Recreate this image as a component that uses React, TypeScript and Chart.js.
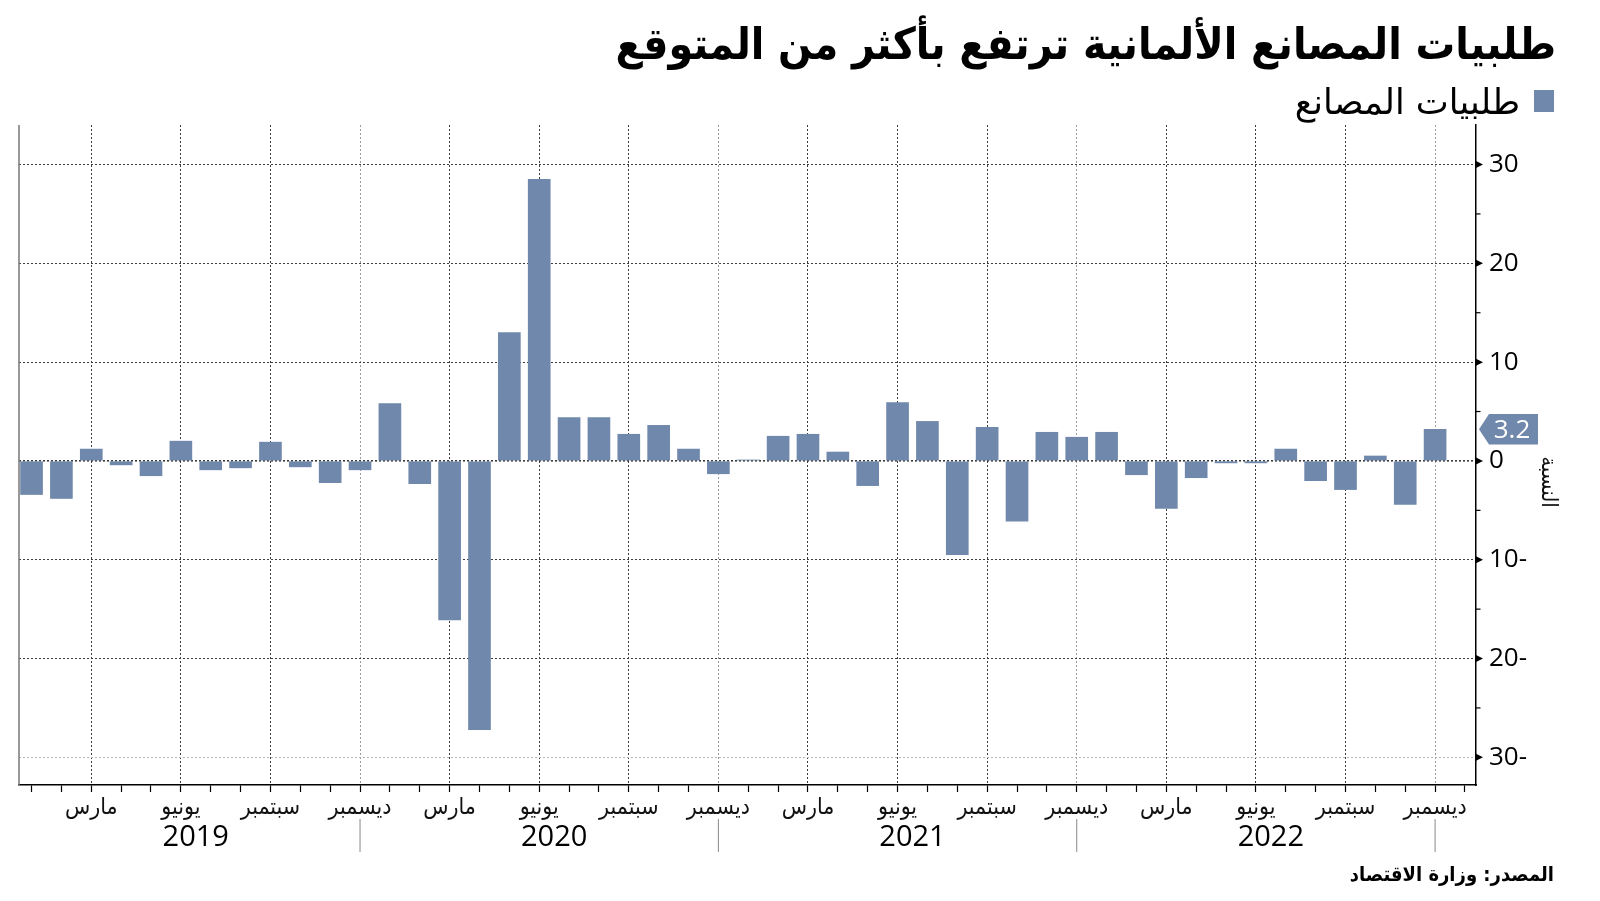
import React, { useEffect, useRef } from 'react';
import { Chart, registerables } from 'chart.js';

Chart.register(...registerables);

const titleText = 'طلبيات المصانع الألمانية ترتفع بأكثر من المتوقع';
const legendText = 'طلبيات المصانع';
const sourceText = 'المصدر: وزارة الاقتصاد';
const yAxisTitle = 'النسبة';

const monthNames = ['يناير', 'فبراير', 'مارس', 'أبريل', 'مايو', 'يونيو', 'يوليو', 'أغسطس', 'سبتمبر', 'أكتوبر', 'نوفمبر', 'ديسمبر'];
const years = ['2019', '2020', '2021', '2022'];

const orders2019 = [-3.4, -3.8, 1.2, -0.4, -1.5, 2.0, -0.9, -0.7, 1.9, -0.6, -2.2, -0.9];
const orders2020 = [5.8, -2.3, -16.1, -27.2, 13.0, 28.5, 4.4, 4.4, 2.7, 3.6, 1.2, -1.3];
const orders2021 = [0.1, 2.5, 2.7, 0.9, -2.5, 5.9, 4.0, -9.5, 3.4, -6.1, 2.9, 2.4];
const orders2022 = [2.9, -1.4, -4.8, -1.7, -0.2, -0.2, 1.2, -2.0, -2.9, 0.5, -4.4, 3.2];

const yMajorTicks = [-30, -20, -10, 0, 10, 20, 30];
const yMinorTicks = [-25, -15, -5, 5, 15, 25];

const BAR = '#6f88ab';
const AR_FONT = '"DejaVu Sans Condensed", "DejaVu Sans", sans-serif';
const AR_WIDE = '"DejaVu Sans", sans-serif';
const NUM_FONT = '"Open Sans", "DejaVu Sans", sans-serif';

export default function App() {
  const ref = useRef<HTMLCanvasElement | null>(null);

  useEffect(() => {
    const canvas = ref.current;
    if (!canvas) return;
    const values = [...orders2019, ...orders2020, ...orders2021, ...orders2022];
    const n = values.length;
    const data = values.map((v, i) => ({ x: i, y: v }));
    const lastVal = values[n - 1];

    const decor = {
      id: 'decor',
      afterDraw(chart: any) {
        const { ctx, chartArea } = chart;
        const xs = chart.scales.x;
        const ys = chart.scales.y;
        ctx.save();
        // left axis line
        ctx.strokeStyle = '#777';
        ctx.lineWidth = 1.5;
        ctx.beginPath();
        ctx.moveTo(chartArea.left, chartArea.top);
        ctx.lineTo(chartArea.left, chartArea.bottom);
        ctx.stroke();

        // y major arrows
        const ax = chartArea.right;
        ctx.fillStyle = '#000';
        yMajorTicks.forEach((v) => {
          const y = ys.getPixelForValue(v);
          ctx.beginPath();
          ctx.moveTo(ax, y - 3.5);
          ctx.lineTo(ax + 7, y);
          ctx.lineTo(ax, y + 3.5);
          ctx.closePath();
          ctx.fill();
        });
        ctx.strokeStyle = '#000';
        ctx.lineWidth = 1.2;
        yMinorTicks.forEach((v) => {
          const y = ys.getPixelForValue(v);
          ctx.beginPath();
          ctx.moveTo(ax, y);
          ctx.lineTo(ax + 4.5, y);
          ctx.stroke();
        });

        // last value tag
        const yv = ys.getPixelForValue(lastVal);
        const h = 15.3;
        ctx.fillStyle = BAR;
        ctx.beginPath();
        ctx.moveTo(ax + 3, yv);
        ctx.lineTo(ax + 13, yv - h);
        ctx.lineTo(ax + 62, yv - h);
        ctx.lineTo(ax + 62, yv + h);
        ctx.lineTo(ax + 13, yv + h);
        ctx.closePath();
        ctx.fill();
        ctx.fillStyle = '#fff';
        ctx.font = `26px ${NUM_FONT}`;
        ctx.textAlign = 'center';
        ctx.textBaseline = 'middle';
        ctx.fillText(String(lastVal), ax + 36, yv + 1);

        // y axis title (rotated)
        ctx.save();
        ctx.translate(1548, 482);
        ctx.rotate(Math.PI / 2);
        ctx.fillStyle = '#111';
        ctx.font = `22px ${AR_FONT}`;
        ctx.textAlign = 'center';
        ctx.textBaseline = 'middle';
        ctx.fillText(yAxisTitle, 0, 0);
        ctx.restore();

        // year labels & separators
        ctx.fillStyle = '#000';
        ctx.font = `29px ${NUM_FONT}`;
        ctx.textAlign = 'center';
        ctx.textBaseline = 'middle';
        years.forEach((yr, k) => {
          const cx = xs.getPixelForValue(12 * k + 5.5);
          ctx.fillText(yr, cx, 838);
          const sx = xs.getPixelForValue(12 * k + 11);
          ctx.strokeStyle = '#888';
          ctx.lineWidth = 1;
          ctx.beginPath();
          ctx.moveTo(sx, 819);
          ctx.lineTo(sx, 852);
          ctx.stroke();
        });
        ctx.restore();
      },
    };

    const chart = new Chart(canvas, {
      type: 'bar',
      data: {
        datasets: [
          {
            label: legendText,
            data,
            backgroundColor: BAR,
            borderWidth: 0,
            barThickness: 22,
          },
        ],
      },
      options: {
        animation: false,
        responsive: false,
        devicePixelRatio: 1,
        layout: { padding: { left: 19, top: 125, right: 0, bottom: 0 } },
        plugins: { legend: { display: false }, tooltip: { enabled: false }, title: { display: false } },
        scales: {
          x: {
            type: 'linear',
            min: -0.42,
            max: 48.37,
            offset: false,
            afterBuildTicks: (scale: any) => {
              const t: any[] = [];
              for (let i = 0; i <= n; i++) t.push({ value: i });
              scale.ticks = t;
            },
            afterFit: (scale: any) => {
              scale.height = 116;
            },
            ticks: {
              autoSkip: false,
              maxRotation: 0,
              minRotation: 0,
              padding: 2,
              color: '#111',
              font: { family: AR_FONT, size: 23 },
              callback: (v: any) => {
                const i = Number(v);
                return i < n && i % 3 === 2 ? monthNames[i % 12] : '';
              },
            },
            grid: {
              offset: false,
              color: (c: any) => {
                const v = c.tick ? c.tick.value : -1;
                if (v < 0 || v >= n || v % 3 !== 2) return 'rgba(0,0,0,0)';
                return v % 12 === 11 ? '#9a9a9a' : '#3c3c3c';
              },
              lineWidth: 1,
              tickColor: '#000',
              tickLength: 7,
              tickWidth: 1.2,
              tickBorderDash: [],
              drawTicks: true,
            },
            border: { display: true, color: '#000', width: 1.5, dash: [2, 2] },
          },
          y: {
            type: 'linear',
            position: 'right',
            min: -32.8,
            max: 34,
            afterBuildTicks: (scale: any) => {
              scale.ticks = [...yMajorTicks, ...yMinorTicks].sort((a, b) => a - b).map((v) => ({ value: v }));
            },
            afterFit: (scale: any) => {
              scale.width = 124;
            },
            ticks: {
              padding: 13,
              color: '#000',
              font: { family: NUM_FONT, size: 26 },
              callback: (v: any) => {
                const val = Number(v);
                if (val % 10 !== 0) return '';
                return val < 0 ? `${-val}-` : `${val}`;
              },
            },
            grid: {
              drawTicks: false,
              color: (c: any) => {
                const v = c.tick ? c.tick.value : 1;
                if (v % 10 !== 0) return 'rgba(0,0,0,0)';
                return v === -30 ? '#b4b4b4' : '#3c3c3c';
              },
              lineWidth: (c: any) => (c.tick && c.tick.value === 0 ? 1.6 : 1),
            },
            border: { display: true, color: '#000', width: 1.5, dash: [2, 2] },
          },
        },
      },
      plugins: [decor],
    } as any);

    return () => chart.destroy();
  }, []);

  return (
    <div style={{ position: 'absolute', left: 0, top: 0, width: 1600, height: 901, background: '#fff', overflow: 'hidden' }}>
      <canvas ref={ref} width={1600} height={901} style={{ position: 'absolute', left: 0, top: 0 }} />
      <div
        dir="rtl"
        style={{
          position: 'absolute',
          right: 44,
          top: 14,
          fontFamily: AR_FONT,
          fontWeight: 'bold',
          fontSize: 44,
          lineHeight: '60px',
          color: '#000',
          whiteSpace: 'nowrap',
        }}
      >
        {titleText}
      </div>
      <div style={{ position: 'absolute', left: 1534, top: 90, width: 20, height: 22, background: BAR }} />
      <div
        dir="rtl"
        style={{
          position: 'absolute',
          right: 80,
          top: 80,
          fontFamily: AR_WIDE,
          fontSize: 35,
          lineHeight: '44px',
          color: '#000',
          whiteSpace: 'nowrap',
        }}
      >
        {legendText}
      </div>
      <div
        dir="rtl"
        style={{
          position: 'absolute',
          right: 46,
          top: 860,
          fontFamily: AR_FONT,
          fontWeight: 600,
          fontSize: 20,
          lineHeight: '28px',
          color: '#000',
          whiteSpace: 'nowrap',
        }}
      >
        {sourceText}
      </div>
    </div>
  );
}
